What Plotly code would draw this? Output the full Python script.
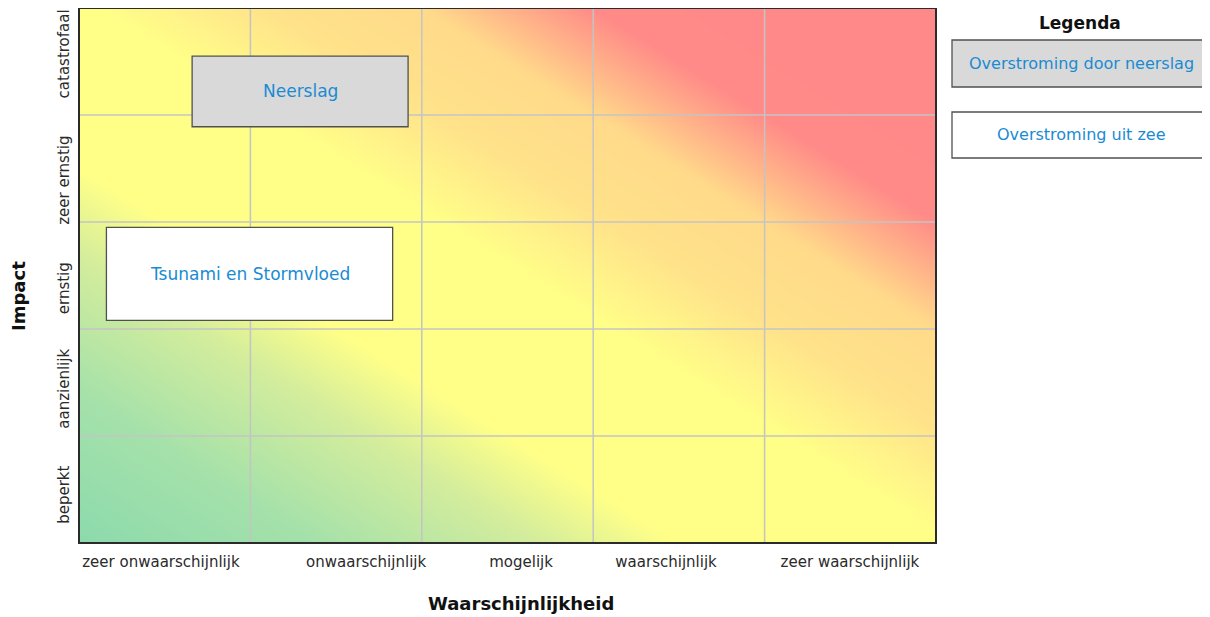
import plotly.graph_objects as go

# ---- data ----
kans_labels = ["zeer onwaarschijnlijk", "onwaarschijnlijk", "mogelijk",
               "waarschijnlijk", "zeer waarschijnlijk"]
impact_labels = ["beperkt", "aanzienlijk", "ernstig", "zeer ernstig", "catastrofaal"]

risico_namen = ["Neerslag", "Tsunami en Stormvloed"]
risico_categorie = ["Overstroming door neerslag", "Overstroming uit zee"]
kans_van = [0.66, 0.16]
kans_tot = [1.92, 1.83]
impact_van = [3.89, 2.08]
impact_tot = [4.55, 2.95]

legenda_items = ["Overstroming door neerslag", "Overstroming uit zee"]

# background risk score at the four corners of the matrix (kans + impact)
achtergrond_x = [0, 5]
achtergrond_y = [0, 5]
achtergrond_z = [[0, 5], [5, 10]]

# ---- styles ----
FONT = "DejaVu Sans"
BLUE = "#1a8bd3"
fills = {"Overstroming door neerslag": "#d9d9d9", "Overstroming uit zee": "#ffffff"}
colorscale = [
    [0.00, "rgb(140,218,172)"],
    [0.14, "rgb(165,225,170)"],
    [0.27, "rgb(212,237,156)"],
    [0.35, "rgb(255,255,136)"],
    [0.51, "rgb(255,255,136)"],
    [0.61, "rgb(255,226,138)"],
    [0.70, "rgb(255,218,138)"],
    [0.80, "rgb(255,138,136)"],
    [1.00, "rgb(255,136,136)"],
]

fig = go.Figure()
fig.add_trace(go.Heatmap(
    x=achtergrond_x, y=achtergrond_y, z=achtergrond_z,
    zmin=0, zmax=10, zsmooth="best", colorscale=colorscale,
    showscale=False, hoverinfo="skip"))

shapes = []
# grid lines
n = len(kans_labels)
for i in range(1, n):
    shapes.append(dict(type="line", xref="x", yref="paper", x0=i, x1=i, y0=0, y1=1,
                       line=dict(color="#c4c4c4", width=1.5), layer="above"))
for i in range(1, len(impact_labels)):
    shapes.append(dict(type="line", xref="paper", yref="y", x0=0, x1=1, y0=i, y1=i,
                       line=dict(color="#c4c4c4", width=1.5), layer="above"))

annotations = []
for naam, cat, x0, x1, y0, y1 in zip(risico_namen, risico_categorie,
                                      kans_van, kans_tot, impact_van, impact_tot):
    shapes.append(dict(type="rect", xref="x", yref="y", x0=x0, x1=x1, y0=y0, y1=y1,
                       fillcolor=fills[cat], line=dict(color="#505050", width=1.3),
                       layer="above"))
    annotations.append(dict(x=(x0 + x1) / 2, y=(y0 + y1) / 2, xref="x", yref="y",
                            xanchor="center", yanchor="middle",
                            text=naam, showarrow=False,
                            font=dict(family=FONT, size=17, color=BLUE)))

# frame
shapes.append(dict(type="rect", xref="paper", yref="paper", x0=0, x1=1, y0=0, y1=1,
                   line=dict(color="#2b2b2b", width=2), layer="above"))

# legend (paper coords: plot area spans 857 x 535 px)
PW, PH = 857.0, 535.0
def px(xp):
    return (xp - 79) / PW
def py(yp):
    return (543 - yp) / PH

annotations.append(dict(x=px(1080), y=py(23), xref="paper", yref="paper",
                        xanchor="center", yanchor="middle", text="<b>Legenda</b>",
                        showarrow=False, font=dict(family=FONT, size=17, color="#111")))
leg_box = [(40, 87), (112, 158)]
for item, (top, bot) in zip(legenda_items, leg_box):
    shapes.append(dict(type="rect", xref="paper", yref="paper", x0=px(952), x1=px(1212),
                       y0=py(bot), y1=py(top), fillcolor=fills[item],
                       line=dict(color="#505050", width=1.3)))
    annotations.append(dict(x=px(1081), y=py((top + bot) / 2), xref="paper", yref="paper",
                            xanchor="center", yanchor="middle",
                            text=item, showarrow=False,
                            font=dict(family=FONT, size=16, color=BLUE)))

# axis titles
annotations.append(dict(x=px(18), y=py(296), xref="paper", yref="paper",
                        xanchor="center", yanchor="middle", text="<b>Impact</b>",
                        textangle=-90, showarrow=False,
                        font=dict(family=FONT, size=18, color="#111")))
annotations.append(dict(x=px(521), y=py(603), xref="paper", yref="paper",
                        xanchor="center", yanchor="middle",
                        text="<b>Waarschijnlijkheid</b>", showarrow=False,
                        font=dict(family=FONT, size=18, color="#111")))

# page body has an 8px margin: figure is shifted accordingly
fig.update_layout(
    width=1202, height=609,
    margin=dict(l=71, r=274, t=0, b=74, pad=0),
    paper_bgcolor="white", plot_bgcolor="white",
    shapes=shapes, annotations=annotations,
    font=dict(family=FONT, size=15, color="#333"),
    showlegend=False,
    xaxis=dict(range=[0, 5], showgrid=False, zeroline=False,
               tickvals=[0.478, 1.675, 2.579, 3.425, 4.498], ticktext=kans_labels,
               ticks="outside", ticklen=5, tickcolor="rgba(0,0,0,0)",
               tickfont=dict(family=FONT, size=15, color="#2a2a2a")),
    yaxis=dict(range=[0, 5], showgrid=False, zeroline=False,
               tickvals=[0.43, 1.42, 2.36, 3.37, 4.55], ticktext=impact_labels,
               tickangle=-90, ticks="outside", ticklen=3, tickcolor="rgba(0,0,0,0)",
               tickfont=dict(family=FONT, size=15, color="#2a2a2a")),
)

fig.write_html("out.html")
